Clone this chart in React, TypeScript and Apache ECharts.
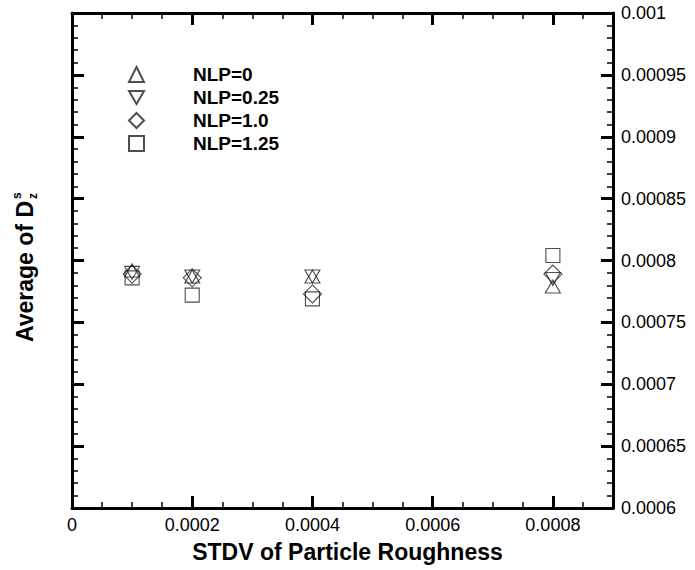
import React, { useEffect, useRef } from "react";
import * as echarts from "echarts";

const xValues = [0.0001, 0.0002, 0.0004, 0.0008];
const nlp0 = [0.000792, 0.000787, 0.000787, 0.000779];
const nlp025 = [0.00079, 0.000787, 0.000787, 0.000785];
const nlp10 = [0.000789, 0.000786, 0.000773, 0.000789];
const nlp125 = [0.000786, 0.000772, 0.000769, 0.000804];
const seriesNames = ["NLP=0", "NLP=0.25", "NLP=1.0", "NLP=1.25"];

const FONT = "Liberation Sans";
const STROKE = "#222";
const DOWN_TRIANGLE = "path://M0,0L2,0L1,1.732Z";

function pairs(ys: number[]) {
  return xValues.map((x, i) => [x, ys[i]]);
}

const fmt = (v: number) => String(Number(v.toFixed(7)));

export default function App() {
  const ref = useRef<HTMLDivElement>(null);
  useEffect(() => {
    if (!ref.current) return;
    const chart = echarts.init(ref.current, null, { renderer: "svg" });
    const grid = { left: 72, right: 82, top: 13, bottom: 62 };
    const xBase = { type: "value", min: 0, max: 0.0009, splitLine: { show: false } };
    const yBase = {
      type: "value",
      min: 0.0006,
      max: 0.001,
      interval: 0.00005,
      splitLine: { show: false },
      axisLine: { show: true, onZero: false, lineStyle: { color: "#000", width: 3 } },
      axisTick: { show: true, inside: true, length: 12, lineStyle: { color: "#000", width: 3 } },
      minorTick: { show: true, splitNumber: 5, length: 6, lineStyle: { color: "#000", width: 1.5 } },
      minorSplitLine: { show: false },
    };
    const itemStyle = { color: "rgba(0,0,0,0)", borderColor: STROKE, borderWidth: 1.1 };
    const mk = (name: string, ys: number[], symbol: string, size: any) => ({
      type: "scatter",
      name,
      data: pairs(ys),
      symbol,
      symbolSize: size,
      symbolKeepAspect: false,
      itemStyle,
      emphasis: { disabled: true },
      xAxisIndex: 0,
      yAxisIndex: 0,
    });
    const majorX = {
      interval: 0.0002,
      axisLine: { show: true, onZero: false, lineStyle: { color: "#000", width: 3 } },
      axisTick: { show: true, inside: true, length: 12, lineStyle: { color: "#000", width: 3 } },
    };
    const minorX = {
      interval: 0.00005,
      axisLine: { show: false, onZero: false },
      axisTick: { show: true, inside: true, length: 6, lineStyle: { color: "#000", width: 1.5 } },
      axisLabel: { show: false },
    };
    chart.setOption({
      animation: false,
      grid,
      legend: {
        orient: "vertical",
        left: 123,
        top: 60,
        itemWidth: 15,
        itemHeight: 15,
        itemGap: 4,
        selectedMode: false,
        data: seriesNames,
        textStyle: { fontFamily: FONT, fontWeight: "bold", fontSize: 19, color: "#000", padding: [0, 0, 0, 44] },
      },
      xAxis: [
        {
          ...xBase,
          ...majorX,
          position: "bottom",
          axisLabel: {
            show: true,
            showMaxLabel: false,
            margin: 8,
            fontFamily: FONT,
            fontSize: 18,
            color: "#000",
            formatter: (v: number) => fmt(v),
          },
        },
        { ...xBase, ...minorX, position: "bottom" },
        { ...xBase, ...majorX, position: "top", axisLabel: { show: false } },
        { ...xBase, ...minorX, position: "top" },
      ],
      yAxis: [
        { ...yBase, position: "left", axisLabel: { show: false } },
        {
          ...yBase,
          position: "right",
          axisLabel: {
            show: true,
            margin: 8,
            fontFamily: FONT,
            fontSize: 18,
            color: "#000",
            formatter: (v: number) => fmt(v),
          },
        },
      ],
      graphic: [
        {
          type: "text",
          left: "center",
          top: 540,
          style: { text: "STDV of Particle Roughness", font: `bold 23px "${FONT}"`, fill: "#000" },
        },
        {
          type: "group",
          x: 25,
          y: 265,
          rotation: Math.PI / 2,
          children: [
            {
              type: "text",
              x: 64,
              y: 0,
              style: { text: "Average of D", font: `bold 23px "${FONT}"`, fill: "#000", align: "right", verticalAlign: "middle" },
            },
            {
              type: "text",
              x: 66,
              y: -8,
              style: { text: "s", font: `bold 12px "${FONT}"`, fill: "#000", align: "left", verticalAlign: "middle" },
            },
            {
              type: "text",
              x: 66,
              y: 8,
              style: { text: "z", font: `bold 12px "${FONT}"`, fill: "#000", align: "left", verticalAlign: "middle" },
            },
          ],
        },
      ],
      series: [
        mk(seriesNames[0], nlp0, "triangle", [15, 13]),
        mk(seriesNames[1], nlp025, DOWN_TRIANGLE, [15, 13]),
        mk(seriesNames[2], nlp10, "diamond", [18, 18]),
        mk(seriesNames[3], nlp125, "rect", [14, 14]),
      ],
    });
    return () => chart.dispose();
  }, []);
  return <div ref={ref} style={{ position: "absolute", left: 0, top: 0, width: 695, height: 570 }} />;
}
